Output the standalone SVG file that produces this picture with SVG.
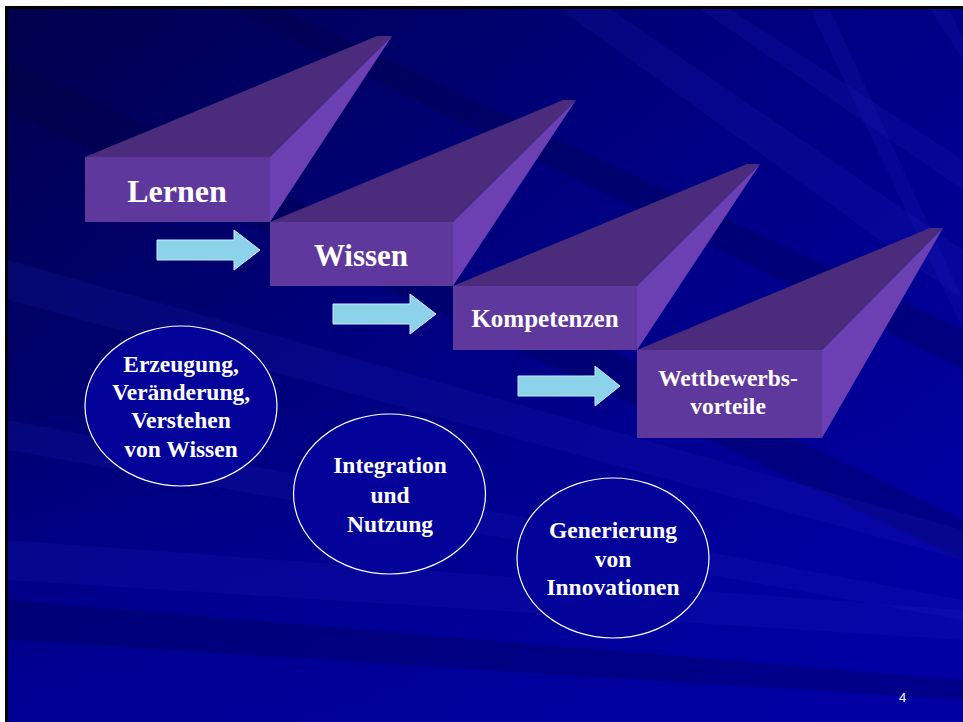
<svg xmlns="http://www.w3.org/2000/svg" width="963" height="722" viewBox="0 0 963 722">
  <defs>
    <linearGradient id="bg" x1="0" y1="0" x2="1" y2="0.9">
      <stop offset="0" stop-color="#00004c"/>
      <stop offset="0.45" stop-color="#000080"/>
      <stop offset="1" stop-color="#0000a8"/>
    </linearGradient>
    <linearGradient id="bg2" x1="0" y1="0" x2="0" y2="1">
      <stop offset="0" stop-color="#0000a0" stop-opacity="0"/>
      <stop offset="0.55" stop-color="#0000a0" stop-opacity="0"/>
      <stop offset="1" stop-color="#0000a0" stop-opacity="0.6"/>
    </linearGradient>
    <style>
      .front { fill: #5f389d; }
      .top { fill: #4b2c7c; }
      .side { fill: #6c3fb3; }
      .arrow { fill: #8bd2ea; stroke: #c8ecf8; stroke-width: 1; }
      .oval { fill: #03039a; stroke: #ffffff; stroke-width: 1.2; }
      .lbl { font-family: "Liberation Serif", "Times New Roman", serif; font-weight: bold; fill: #ffffff; text-anchor: middle; }
      .streakL { fill: #3030d8; opacity: 0.12; }
      .streakD { fill: #000030; opacity: 0.22; }
    </style>
  </defs>

  <!-- slide frame -->
  <rect x="0" y="0" width="963" height="722" fill="#ffffff"/>
  <rect x="5" y="6" width="958" height="716" fill="#000000"/>
  <rect x="8" y="9" width="955" height="713" fill="url(#bg)"/>
  <rect x="8" y="9" width="955" height="713" fill="url(#bg2)"/>

  <!-- background streaks -->
  <g id="streaks">
    <polygon class="streakD" points="230,9 280,9 963,330 963,370"/>
    <polygon class="streakD" points="8,60 8,110 963,560 963,520"/>
    <polygon class="streakL" points="560,9 610,9 963,250 963,300"/>
    <polygon class="streakL" points="700,9 730,9 963,160 963,190"/>
    <polygon class="streakL" points="810,9 830,9 963,300 963,330"/>
    <polygon class="streakL" points="8,260 8,300 963,560 963,530"/>
    <polygon class="streakL" points="8,540 8,580 963,640 963,610"/>
    <polygon class="streakD" points="8,600 8,640 963,700 963,680"/>
    <polygon class="streakL" points="930,9 950,9 963,40 963,60"/>
    <polygon class="streakL" points="8,420 8,450 963,620 963,600"/>
  </g>

  <!-- step boxes -->
  <g id="box-lernen">
    <polygon class="top" points="85,157 377,36 392,36 270,157"/>
    <polygon class="side" points="270,157 392,36 270,222"/>
    <rect class="front" x="85" y="157" width="185" height="65"/>
    <text class="lbl" x="177" y="202" font-size="32">Lernen</text>
  </g>
  <g id="box-wissen">
    <polygon class="top" points="270,222 563,100 576,100 453,222"/>
    <polygon class="side" points="453,222 576,100 453,286"/>
    <rect class="front" x="270" y="222" width="183" height="64"/>
    <text class="lbl" x="361" y="266" font-size="31">Wissen</text>
  </g>
  <g id="box-kompetenzen">
    <polygon class="top" points="453,286 747,164 760,164 637,286"/>
    <polygon class="side" points="637,286 760,164 637,350"/>
    <rect class="front" x="453" y="286" width="184" height="64"/>
    <text class="lbl" x="545" y="327" font-size="25">Kompetenzen</text>
  </g>
  <g id="box-wettbewerbsvorteile">
    <polygon class="top" points="637,350 930,228 943,228 822,350"/>
    <polygon class="side" points="822,350 943,228 822,438"/>
    <rect class="front" x="637" y="350" width="185" height="88"/>
    <text class="lbl" x="728" y="386" font-size="23.5">Wettbewerbs-</text>
    <text class="lbl" x="728" y="414" font-size="23.5">vorteile</text>
  </g>

  <!-- arrows -->
  <g id="connectors">
    <polygon class="arrow" points="157,240 234,240 234,230 260,250 234,270 234,260 157,260"/>
    <polygon class="arrow" points="333,304 410,304 410,294 436,314 410,334 410,324 333,324"/>
    <polygon class="arrow" points="518,376 595,376 595,366 620,386 595,406 595,396 518,396"/>
  </g>

  <!-- ovals -->
  <g id="oval-erzeugung">
    <ellipse class="oval" cx="181" cy="406" rx="96" ry="80"/>
    <text class="lbl" x="181" y="372" font-size="23.5">Erzeugung,</text>
    <text class="lbl" x="181" y="400" font-size="23.5">Veränderung,</text>
    <text class="lbl" x="181" y="428" font-size="23.5">Verstehen</text>
    <text class="lbl" x="181" y="457" font-size="23.5">von Wissen</text>
  </g>
  <g id="oval-integration">
    <ellipse class="oval" cx="389.5" cy="494" rx="96" ry="80"/>
    <text class="lbl" x="390" y="473" font-size="23.5">Integration</text>
    <text class="lbl" x="390" y="503" font-size="23.5">und</text>
    <text class="lbl" x="390" y="532" font-size="23.5">Nutzung</text>
  </g>
  <g id="oval-generierung">
    <ellipse class="oval" cx="613" cy="558" rx="96" ry="80"/>
    <text class="lbl" x="613" y="538" font-size="23.5">Generierung</text>
    <text class="lbl" x="613" y="567" font-size="23.5">von</text>
    <text class="lbl" x="613" y="595" font-size="23.5">Innovationen</text>
  </g>

  <text x="902.5" y="702" font-family="Liberation Sans, Arial, sans-serif" font-size="13" fill="#ffffff" text-anchor="middle">4</text>
</svg>
